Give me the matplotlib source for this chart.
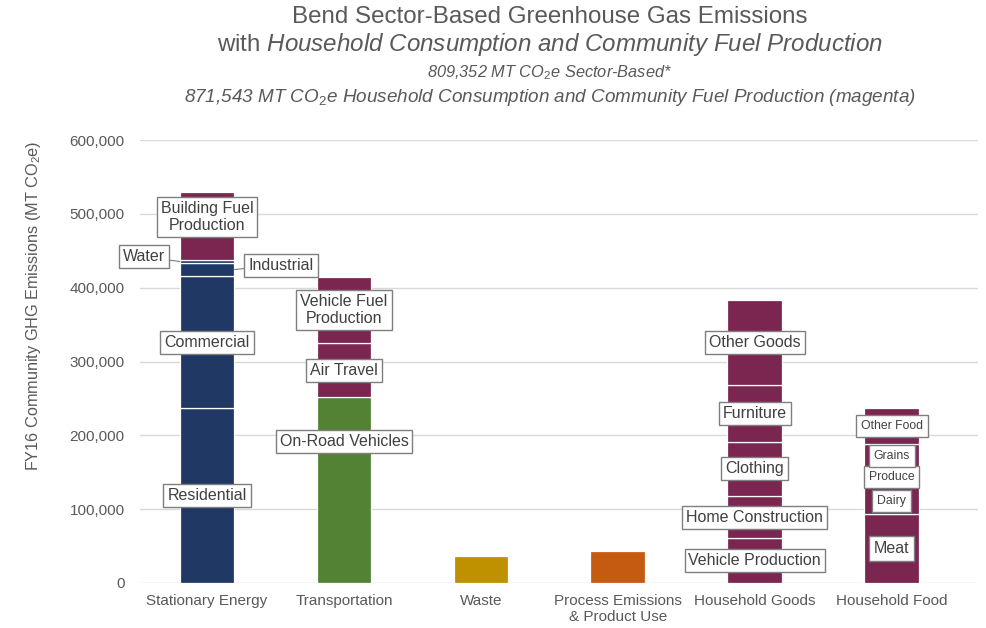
import matplotlib
matplotlib.use("Agg")
import matplotlib.pyplot as plt
from matplotlib.ticker import FuncFormatter

plt.rcParams['font.family'] = ['Liberation Sans', 'DejaVu Sans']
plt.rcParams['mathtext.fontset'] = 'custom'
plt.rcParams['mathtext.rm'] = 'Liberation Sans'
plt.rcParams['mathtext.it'] = 'Liberation Sans:italic'

# ---------------- data ----------------
categories = ["Stationary Energy", "Transportation", "Waste",
              "Process Emissions\n& Product Use", "Household Goods", "Household Food"]

stationary_labels = ["Residential", "Commercial", "Industrial", "Water", "Building Fuel\nProduction"]
stationary_values = [237000, 178600, 18000, 3700, 92700]

transport_labels = ["On-Road Vehicles", "Air Travel", "Vehicle Fuel\nProduction"]
transport_values = [252000, 72800, 89200]

waste_values = [37000]
process_values = [43000]

goods_labels = ["Vehicle Production", "Home Construction", "Clothing", "Furniture", "Other Goods"]
goods_values = [60500, 57500, 73500, 76500, 115500]

food_labels = ["Meat", "Dairy", "Produce", "Grains", "Other Food"]
food_values = [93500, 36000, 27500, 31000, 48700]

yticks = [0, 100000, 200000, 300000, 400000, 500000, 600000]

# ---------------- colors ----------------
NAVY = "#203864"
GREEN = "#548235"
GOLD = "#bf9000"
ORANGE = "#c55a11"
MAGENTA = "#7b2650"
TXT = "#595959"
GRID = "#d9d9d9"

stationary_colors = [NAVY, NAVY, NAVY, NAVY, MAGENTA]
transport_colors = [GREEN, MAGENTA, MAGENTA]
goods_colors = [MAGENTA] * 5
food_colors = [MAGENTA] * 5

fig = plt.figure(figsize=(9.86, 6.28), dpi=100)
ax = fig.add_axes([140 / 986, 1 - 583 / 628, (978 - 140) / 986, (583 - 140) / 628])

W = 0.4

def stack(xpos, values, colors):
    bottom = 0
    mids = []
    for v, c in zip(values, colors):
        ax.bar(xpos, v, W, bottom=bottom, color=c, edgecolor="white", linewidth=0.9, zorder=2)
        mids.append(bottom + v / 2)
        bottom += v
    return mids

def box(pad=0.25):
    return dict(boxstyle=f"square,pad={pad}", facecolor="white", edgecolor="#7f7f7f", linewidth=1.0)

def lab(x, y, t, size=11.5, pad=0.25):
    ax.text(x, y, t, ha="center", va="center", fontsize=size, color="#404040",
            bbox=box(pad), zorder=5, linespacing=1.15)

# Stationary energy
m = stack(0, stationary_values, stationary_colors)
lab(0, m[0], stationary_labels[0])
lab(0, m[1], stationary_labels[1])
lab(0, m[4] + 12000, stationary_labels[4])
ax.annotate(stationary_labels[3], xy=(-W / 2, m[3]), xytext=(-0.46, m[3] + 6500),
            ha="center", va="center", fontsize=11.5, color="#404040", bbox=box(), zorder=5,
            arrowprops=dict(arrowstyle="-", color="#7f7f7f", lw=0.8, shrinkA=0, shrinkB=0))
ax.annotate(stationary_labels[2], xy=(W / 2, m[2]), xytext=(0.54, m[2] + 6000),
            ha="center", va="center", fontsize=11.5, color="#404040", bbox=box(), zorder=5,
            arrowprops=dict(arrowstyle="-", color="#7f7f7f", lw=0.8, shrinkA=0, shrinkB=0))

# Transportation
m = stack(1, transport_values, transport_colors)
lab(1, 191000, transport_labels[0])
lab(1, m[1], transport_labels[1])
lab(1, m[2], transport_labels[2])

# Waste / Process
stack(2, waste_values, [GOLD])
stack(3, process_values, [ORANGE])

# Household goods
m = stack(4, goods_values, goods_colors)
for y, t in zip(m, goods_labels):
    lab(4, y, t)

# Household food
m = stack(5, food_values, food_colors)
for i, (y, t) in enumerate(zip(m, food_labels)):
    if i == 0:
        lab(5, y, t, size=11.5, pad=0.3)
    else:
        lab(5, y, t, size=8.8, pad=0.4)

# ---------------- axes ----------------
ax.set_xlim(-0.49, 5.63)
ax.set_ylim(0, 600000)
ax.set_yticks(yticks)
ax.yaxis.set_major_formatter(FuncFormatter(lambda v, p: f"{int(v):,}"))
ax.set_xticks(range(len(categories)))
ax.set_xticklabels(categories, fontsize=11, color=TXT, linespacing=1.2)
ax.tick_params(axis="y", labelsize=11, labelcolor=TXT, length=0, pad=11)
ax.tick_params(axis="x", length=0, pad=8)
ax.grid(axis="y", color=GRID, linewidth=1.0, zorder=0)
ax.set_axisbelow(True)
for s in ax.spines.values():
    s.set_visible(False)
ax.set_ylabel("FY16 Community GHG Emissions (MT CO$_2$e)", fontsize=11.7, color=TXT)
ax.yaxis.set_label_coords(-(140 - 43) / 838, (583 - 306) / 443)

# ---------------- titles ----------------
cx = 550 / 986
fig.text(cx, 1 - 17 / 628, "Bend Sector-Based Greenhouse Gas Emissions",
         ha="center", va="center", fontsize=17.4, color=TXT)
fig.text(cx, 1 - 44 / 628,
         r"with $\mathit{Household\ Consumption\ and\ Community\ Fuel\ Production}$",
         ha="center", va="center", fontsize=17.4, color=TXT)
fig.text(cx, 1 - 73 / 628, "809,352 MT CO$_2$e Sector-Based*",
         ha="center", va="center", fontsize=11.8, color=TXT, style="italic")
fig.text(cx, 1 - 97 / 628,
         "871,543 MT CO$_2$e Household Consumption and Community Fuel Production (magenta)",
         ha="center", va="center", fontsize=13.6, color=TXT, style="italic")

fig.savefig("out.png", dpi=100)
